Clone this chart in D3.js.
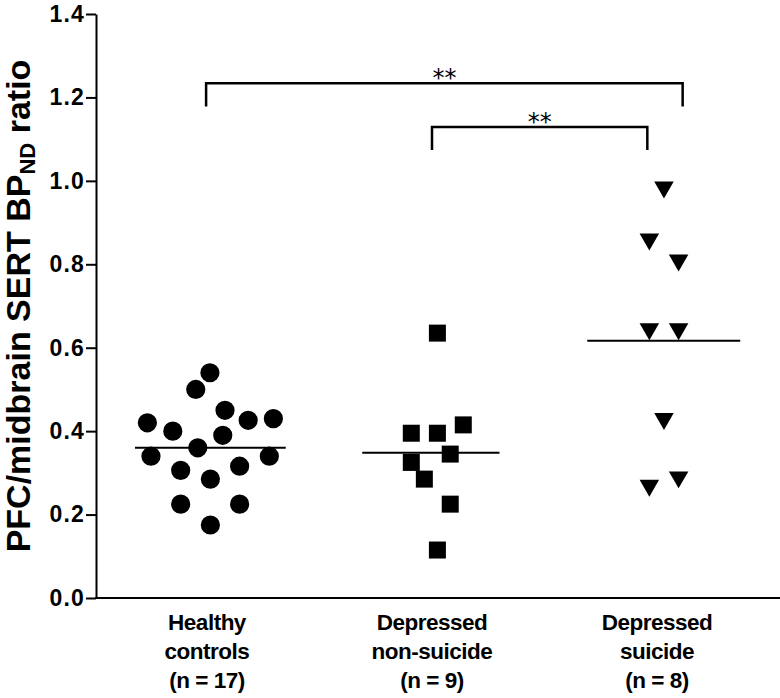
<!DOCTYPE html>
<html><head><meta charset="utf-8">
<script src="https://cdn.jsdelivr.net/npm/d3@7"></script>
<style>body{margin:0;background:#fff}svg{display:block}</style>
</head><body>
<svg id="chart" width="780" height="698"></svg>
<script>
// ---- data ----
const categories = [["Healthy","controls","(n = 17)"],["Depressed","non-suicide","(n = 9)"],["Depressed","suicide","(n = 8)"]];
const healthyValues = [0.54,0.50,0.45,0.42,0.43,0.426,0.40,0.39,0.36,0.34,0.34,0.306,0.316,0.285,0.225,0.225,0.175];
const healthyJitter = [0.013,-0.05,0.08,-0.265,0.295,0.183,-0.152,0.07,-0.041,-0.249,0.277,-0.117,0.145,0.015,-0.117,0.145,0.015];
const nonSuicideValues = [0.635,0.395,0.395,0.415,0.345,0.325,0.285,0.225,0.115];
const nonSuicideJitter = [0.024,-0.092,0.024,0.139,0.081,-0.092,-0.034,0.081,0.024];
const suicideValues = [0.985,0.86,0.81,0.645,0.645,0.43,0.27,0.29];
const suicideJitter = [0.031,-0.034,0.096,-0.034,0.096,0.031,-0.034,0.096];
const yTicks = [0,0.2,0.4,0.6,0.8,1.0,1.2,1.4];
const brackets = [
  {from:-0.004, to:2.114, y:1.234, foot:1.178, label:"**"},
  {from:1.0, to:1.957, y:1.129, foot:1.074, label:"**"}
];

// ---- layout ----
const svg = d3.select("#chart");
const y = d3.scaleLinear().domain([0,1.4]).range([598,14]);
const x = d3.scaleLinear().domain([0,2]).range([207,657]);
const xLeft = 96, xRight = 780;
const meanSpan = [[-0.32,0.35],[-0.31,0.30],[-0.31,0.37]];
const FONT = "'Liberation Sans', Arial, Helvetica, sans-serif";

const groups = [
  {vals:healthyValues, jit:healthyJitter, sym:d3.symbolCircle, size:290, rot:0},
  {vals:nonSuicideValues, jit:nonSuicideJitter, sym:d3.symbolSquare, size:289, rot:0},
  {vals:suicideValues, jit:suicideJitter, sym:d3.symbolTriangle, size:165, rot:180}
];

// y axis
const yAxis = d3.axisLeft(y).tickValues(yTicks).tickFormat(d3.format(".1f")).tickSize(10).tickSizeOuter(0).tickPadding(1);
const ga = svg.append("g").attr("transform",`translate(${xLeft},0)`).call(yAxis);
ga.select(".domain").attr("stroke","#000").attr("stroke-width",2);
ga.selectAll(".tick line").attr("stroke","#000").attr("stroke-width",2);
ga.selectAll(".tick text").attr("font-family",FONT).attr("font-weight","bold").attr("font-size",23)
  .attr("letter-spacing",1.2).attr("fill","#000");

// x axis line
svg.append("line").attr("x1",xLeft-1).attr("x2",xRight).attr("y1",y(0)).attr("y2",y(0))
  .attr("stroke","#000").attr("stroke-width",2);

// y title
const yt = svg.append("text").attr("transform",`translate(30,306) rotate(-90)`)
  .attr("text-anchor","middle").attr("font-family",FONT).attr("font-weight","bold").attr("font-size",34).attr("fill","#000");
yt.append("tspan").text("PFC/midbrain SERT BP");
yt.append("tspan").attr("font-size",22).attr("dy",5).text("ND");
yt.append("tspan").attr("dy",-5).text(" ratio");

// points
groups.forEach((g,gi)=>{
  svg.append("g").selectAll("path").data(g.vals).join("path")
    .attr("d", d3.symbol().type(g.sym).size(g.size))
    .attr("transform",(d,i)=>`translate(${x(gi+g.jit[i])},${y(d)}) rotate(${g.rot})`)
    .attr("fill","#000");
  const m = d3.mean(g.vals);
  svg.append("line").attr("x1",x(gi+meanSpan[gi][0])).attr("x2",x(gi+meanSpan[gi][1]))
    .attr("y1",y(m)).attr("y2",y(m)).attr("stroke","#000").attr("stroke-width",2);
});

// category labels
categories.forEach((lines,gi)=>{
  const t = svg.append("text").attr("x",x(gi)).attr("y",630).attr("text-anchor","middle")
    .attr("font-family",FONT).attr("font-weight","bold").attr("font-size",22.5).attr("letter-spacing",-0.5).attr("fill","#000");
  lines.forEach((l,li)=>t.append("tspan").attr("x",x(gi)).attr("dy",li?29:0).text(l));
});

// brackets
brackets.forEach(b=>{
  svg.append("path").attr("fill","none").attr("stroke","#000").attr("stroke-width",2.5)
    .attr("d",`M${x(b.from)},${y(b.foot)}V${y(b.y)}H${x(b.to)}V${y(b.foot)}`);
  svg.append("text").attr("x",x((b.from+b.to)/2)).attr("y",y(b.y)+3).attr("text-anchor","middle")
    .attr("font-family","'DejaVu Sans', sans-serif").attr("font-size",24).attr("fill","#000").text(b.label);
});
</script>
</body></html>
